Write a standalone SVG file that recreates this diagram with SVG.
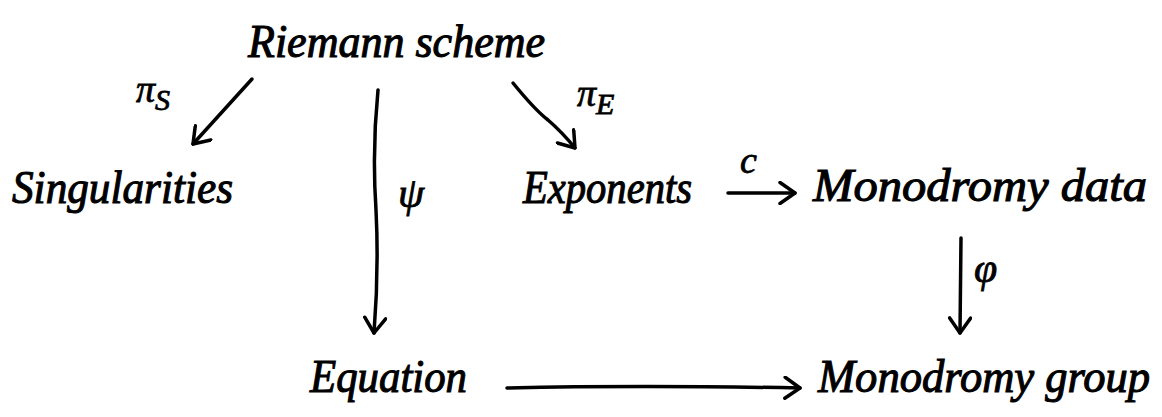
<svg xmlns="http://www.w3.org/2000/svg" width="1162" height="417" viewBox="0 0 1162 417">
  <style>
    .node { font-family: "Liberation Serif", "DejaVu Serif", serif; font-style: italic; font-size: 46px; fill: #000; stroke: #000; stroke-width: 1.1; }
    .lbl { font-family: "Liberation Serif", "DejaVu Serif", serif; font-style: italic; fill: #000; stroke: #000; stroke-width: 0.8; }
    .edge { fill: none; stroke: #000; stroke-width: 3.5; stroke-linecap: round; stroke-linejoin: round; marker-end: url(#ah); }
  </style>
  <defs>
    <marker id="ah" markerUnits="userSpaceOnUse" viewBox="0 0 20 24" markerWidth="20" markerHeight="24" refX="18" refY="12" orient="auto">
      <path d="M3,1.5 L18,12 L3,22.5" fill="none" stroke="#000" stroke-width="3.5" stroke-linecap="round" stroke-linejoin="round"/>
    </marker>
  </defs>
  <rect width="1162" height="417" fill="#fff"/>

  <g id="n-riemann"><text class="node" x="248" y="57" textLength="297" lengthAdjust="spacingAndGlyphs">Riemann scheme</text></g>
  <g id="n-singularities"><text class="node" x="12" y="203" textLength="221" lengthAdjust="spacingAndGlyphs">Singularities</text></g>
  <g id="n-exponents"><text class="node" x="523" y="203" textLength="169" lengthAdjust="spacingAndGlyphs">Exponents</text></g>
  <g id="n-mdata"><text class="node" x="813" y="201" textLength="334" lengthAdjust="spacingAndGlyphs">Monodromy data</text></g>
  <g id="n-equation"><text class="node" x="310" y="392" textLength="157" lengthAdjust="spacingAndGlyphs">Equation</text></g>
  <g id="n-mgroup"><text class="node" x="818" y="392" textLength="332" lengthAdjust="spacingAndGlyphs">Monodromy group</text></g>

  <g id="connectors">
    <path class="edge" d="M252,79 L193,144"/>
    <path class="edge" d="M378,90 Q372,150 376,210 Q379,270 374,333"/>
    <path class="edge" d="M513,83 Q535,110 548,120 Q562,132 575,148"/>
    <path class="edge" d="M728,193 L795,193"/>
    <path class="edge" d="M961,238 L960,333"/>
    <path class="edge" d="M507,388 Q640,385 800,388"/>

    <text class="lbl" x="136" y="102" font-size="38">π<tspan font-size="30" dy="8">S</tspan></text>
    <text class="lbl" x="398" y="207" font-size="42">ψ</text>
    <text class="lbl" x="577" y="106" font-size="38">π<tspan font-size="30" dy="8">E</tspan></text>
    <text class="lbl" x="740" y="173" font-size="38">c</text>
    <text class="lbl" x="974" y="282" font-size="42">φ</text>
  </g>
</svg>
